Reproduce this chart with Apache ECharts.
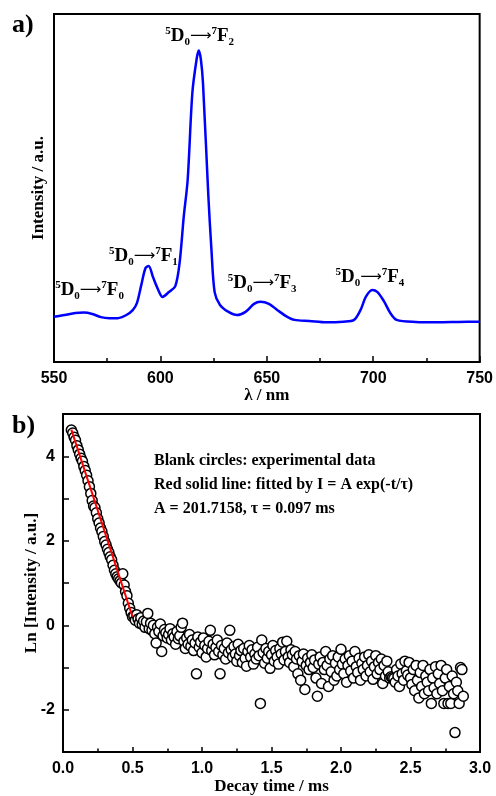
<!DOCTYPE html>
<html>
<head>
<meta charset="utf-8">
<script src="https://cdn.jsdelivr.net/npm/echarts@6/dist/echarts.min.js"></script>
<style>
html,body{margin:0;padding:0;background:#fff;}
#c{width:496px;height:796px;}
</style>
</head>
<body>
<div id="c"></div>
<script>
// ---- Panel a) emission spectrum ----
var specWl = [550,555,560,564,568,572,576,580,584,587,589,591,593,594.5,596.5,599,601,604,607,609,611,612.8,615,617,618,619,620,622.5,624,625.5,628,632,636,640,644,647,651,655,659,663,670,678,686,691,694,696.5,699.5,702,705,708,711,720,730,740,750];
var specInt = [0.130,0.135,0.141,0.142,0.138,0.129,0.126,0.126,0.135,0.149,0.170,0.221,0.270,0.276,0.244,0.207,0.187,0.201,0.218,0.284,0.420,0.523,0.773,0.870,0.895,0.870,0.802,0.480,0.320,0.200,0.164,0.144,0.135,0.144,0.167,0.173,0.167,0.149,0.132,0.121,0.118,0.114,0.116,0.121,0.149,0.187,0.207,0.201,0.175,0.141,0.121,0.115,0.114,0.115,0.116];
// transition labels: F sub-index and anchor in data units
var transLabelF = ['0','1','2','3','4'];
var transLabelWl = [566.7,592.0,618.4,647.8,698.4];
var transLabelInt = [0.207,0.305,0.937,0.227,0.244];

// ---- Panel b) decay curve ----
var decayT = [0.06,0.07,0.08,0.09,0.10,0.11,0.12,0.13,0.14,0.15,0.16,0.17,0.18,0.19,0.20,0.21,0.22,0.23,0.24,0.25,0.26,0.27,0.28,0.29,0.30,0.31,0.32,0.33,0.34,0.35,0.36,0.37,0.38,0.39,0.40,0.41,0.42,0.43,0.44,0.45,0.46,0.47,0.48,0.49,0.50,
0.51,0.52,0.53,0.54,0.55,0.56,0.57,0.58,0.59,0.60,0.61,0.62,0.63,0.64,0.65,0.66,0.67,0.68,0.69,0.70,0.71,0.72,0.73,0.74,0.75,0.76,0.77,0.78,0.79,0.80,0.81,0.82,0.83,0.84,0.85,0.86,0.87,0.88,0.89,0.90,0.91,0.92,0.93,0.94,0.95,0.96,0.97,0.98,0.99,
1.00,1.01,1.02,1.03,1.04,1.05,1.06,1.07,1.08,1.09,1.10,1.11,1.12,1.13,1.14,1.15,1.16,1.17,1.18,1.19,1.20,1.21,1.22,1.23,1.24,1.25,1.26,1.27,1.28,1.29,1.30,1.31,1.32,1.33,1.34,1.35,1.36,1.37,1.38,1.39,1.40,1.41,1.42,1.43,1.44,1.45,1.46,1.47,1.48,1.49,
1.50,1.51,1.52,1.53,1.54,1.55,1.56,1.57,1.58,1.59,1.60,1.61,1.62,1.63,1.64,1.65,1.66,1.67,1.68,1.69,1.70,1.71,1.72,1.73,1.74,1.75,1.76,1.77,1.78,1.79,1.80,1.81,1.82,1.83,1.84,1.85,1.86,1.87,1.88,1.89,1.90,1.91,1.92,1.93,1.94,1.95,1.96,1.97,1.98,1.99,
2.00,2.01,2.02,2.03,2.04,2.05,2.06,2.07,2.08,2.09,2.10,2.11,2.12,2.13,2.14,2.15,2.16,2.17,2.18,2.19,2.20,2.21,2.22,2.23,2.24,2.25,2.26,2.27,2.28,2.29,2.30,2.31,2.32,2.33,2.34,2.35,2.36,2.37,2.38,2.39,2.40,2.41,2.42,2.43,2.44,2.45,2.46,2.47,2.48,2.49,
2.50,2.51,2.52,2.53,2.54,2.55,2.56,2.57,2.58,2.59,2.60,2.61,2.62,2.63,2.64,2.65,2.66,2.67,2.68,2.69,2.70,2.71,2.72,2.73,2.74,2.75,2.76,2.77,2.78,2.79,2.80,2.81,2.82,2.83,2.84,2.85,2.86,2.87,2.88];
var decayLn = [4.62,4.55,4.45,4.38,4.25,4.15,4.05,3.95,3.88,3.76,3.66,3.55,3.42,3.28,3.12,2.95,2.82,2.78,2.66,2.52,2.42,2.30,2.22,2.10,1.98,1.90,1.80,1.72,1.62,1.55,1.42,1.30,1.22,1.15,1.10,1.05,1.00,1.22,0.95,0.80,0.70,0.52,0.40,0.30,0.20,
0.22,0.12,0.25,0.15,0.05,0.18,0.02,0.10,-0.05,0.08,0.28,-0.08,0.05,-0.12,0.00,-0.20,-0.42,-0.05,-0.15,0.03,-0.62,-0.25,-0.10,-0.18,-0.30,-0.22,-0.08,-0.35,-0.20,-0.28,-0.45,-0.15,-0.32,-0.25,-0.05,0.05,-0.38,-0.55,-0.30,-0.45,-0.22,-0.50,-0.35,-0.60,-0.42,-1.15,-0.28,-0.52,-0.40,
-0.65,-0.30,-0.48,-0.75,-0.55,-0.38,-0.12,-0.60,-0.45,-0.70,-0.52,-0.35,-0.62,-1.15,-0.48,-0.70,-0.55,-0.80,-0.42,-0.65,-0.12,-0.58,-0.75,-0.50,-0.68,-0.85,-0.45,-0.72,-0.60,-0.88,-0.55,-0.78,-0.97,-0.62,-0.48,-0.75,-0.58,-0.92,-0.68,-0.80,-0.52,-0.72,-1.85,-0.35,-0.65,-0.90,-0.55,-0.78,-0.62,-1.02,
-0.70,-0.48,-0.85,-0.60,-0.75,-0.92,-0.55,-0.68,-0.40,-0.82,-0.62,-0.38,-0.75,-0.88,-0.58,-0.70,-0.98,-0.62,-0.80,-1.15,-0.72,-1.30,-0.85,-0.68,-1.52,-0.95,-0.78,-1.05,-0.88,-0.70,-1.00,-0.82,-1.25,-1.68,-0.92,-0.75,-1.38,-0.88,-1.05,-0.62,-0.95,-1.45,-0.80,-1.10,-0.72,-1.30,-0.90,-1.20,-0.75,-1.05,
-0.57,-0.92,-1.15,-0.80,-1.35,-0.95,-0.72,-1.08,-0.85,-1.25,-0.62,-0.98,-1.12,-0.78,-1.30,-0.90,-1.05,-0.75,-1.20,-0.95,-0.70,-1.10,-0.85,-1.28,-0.98,-0.72,-1.15,-0.88,-1.05,-0.80,-1.38,-0.95,-1.20,-0.85,-1.10,-1.25,-1.22,-1.24,-1.26,-1.35,-1.05,-1.20,-1.45,-0.92,-1.15,-1.30,-0.85,-1.08,-1.18,-0.88,
-1.25,-1.40,-1.05,-1.55,-0.95,-1.30,-1.72,-1.12,-1.45,-0.95,-1.62,-1.20,-1.35,-1.55,-1.05,-1.85,-1.25,-1.48,-0.98,-1.62,-1.15,-1.38,-0.95,-1.55,-1.85,-1.25,-1.05,-1.85,-1.45,-1.85,-1.20,-1.62,-2.54,-1.35,-1.55,-1.85,-1.00,-1.05,-1.68];
var fitT = [0.06,0.50];
var fitLn = [4.63,0.20];
var decayTicksLabel = [-2,0,2,4];
var annotLines = ['Blank circles: experimental data','Red solid line: fitted by I = A exp(-t/\u03c4)','A = 201.7158, \u03c4 = 0.097 ms'];

var SERIF = '"Liberation Serif","Times New Roman",serif';
var SANS = '"Liberation Sans",Arial,sans-serif';

var chart = echarts.init(document.getElementById('c'), null, {renderer:'canvas'});

var specData = specWl.map(function(w,i){return [w, specInt[i]];});
var labelData = transLabelWl.map(function(w,i){return [w, transLabelInt[i]];});
var decayData = decayT.map(function(t,i){return [t, decayLn[i]];});
var fitData = fitT.map(function(t,i){return [t, fitLn[i]];});

var axisLbl = {color:'#000', fontFamily:SANS, fontWeight:'bold', fontSize:16};
var nameStyle = {color:'#000', fontFamily:SERIF, fontWeight:'bold', fontSize:17};

var option = {
  animation:false,
  backgroundColor:'#fff',
  grid:[
    {left:54, right:15, top:14, height:348, show:true, borderColor:'#000', borderWidth:2, backgroundColor:'transparent'},
    {left:63, right:16, top:414, height:338, show:true, borderColor:'#000', borderWidth:2, backgroundColor:'transparent'}
  ],
  xAxis:[
    {gridIndex:0, type:'value', min:550, max:750, interval:50,
     axisLine:{show:true, onZero:false, lineStyle:{color:'#000', width:2}},
     axisTick:{show:true, inside:true, length:6, lineStyle:{color:'#000', width:1.5}},
     minorTick:{show:true, splitNumber:2, length:4, lineStyle:{color:'#000', width:1.5}},
     splitLine:{show:false},
     axisLabel:Object.assign({margin:9}, axisLbl),
     name:'\u03bb / nm', nameLocation:'middle', nameGap:25, nameMoveOverlap:false, nameTextStyle:nameStyle},
    {gridIndex:1, type:'value', min:0, max:3, interval:0.5,
     axisLine:{show:true, onZero:false, lineStyle:{color:'#000', width:2}},
     axisTick:{show:true, inside:true, length:5, lineStyle:{color:'#000', width:1.5}},
     minorTick:{show:true, splitNumber:2, length:3.5, lineStyle:{color:'#000', width:1.5}},
     splitLine:{show:false},
     axisLabel:Object.assign({margin:9, formatter:function(v){return v.toFixed(1);}}, axisLbl),
     name:'Decay time / ms', nameLocation:'middle', nameGap:26, nameMoveOverlap:false, nameTextStyle:nameStyle}
  ],
  yAxis:[
    {gridIndex:0, type:'value', min:0, max:1,
     axisLine:{show:true, onZero:false, lineStyle:{color:'#000', width:2}},
     axisTick:{show:false}, axisLabel:{show:false}, splitLine:{show:false},
     name:'Intensity / a.u.', nameLocation:'middle', nameGap:7, nameMoveOverlap:false, nameTextStyle:nameStyle},
    {gridIndex:1, type:'value', min:-3, max:5, interval:1,
     axisLine:{show:true, onZero:false, lineStyle:{color:'#000', width:2}},
     axisTick:{show:true, inside:true, length:6, lineStyle:{color:'#000', width:1.5}},
     splitLine:{show:false},
     axisLabel:Object.assign({margin:8, formatter:function(v){return decayTicksLabel.indexOf(v)>=0 ? String(v) : '';}}, axisLbl),
     name:'Ln [Intensity / a.u.]', nameLocation:'middle', nameGap:23, nameMoveOverlap:false, nameTextStyle:nameStyle}
  ],
  series:[
    {type:'line', xAxisIndex:0, yAxisIndex:0, data:specData, showSymbol:false, smooth:0.3,
     lineStyle:{color:'#0000ff', width:2.5}, silent:true, z:3},
    {type:'scatter', xAxisIndex:0, yAxisIndex:0, data:labelData, symbolSize:1,
     itemStyle:{color:'rgba(255,255,255,0)'}, silent:true, z:4,
     label:{show:true, position:'inside', color:'#000', opacity:1, textBorderWidth:0,
       formatter:function(p){return '{sup|5}{m|D}{sub|0}{arr|\u27f6}{sup|7}{m|F}{sub|'+transLabelF[p.dataIndex]+'}';},
       rich:{
         m:{fontFamily:SERIF, fontWeight:'bold', fontSize:19, color:'#000', textBorderWidth:0, lineHeight:28, verticalAlign:'middle'},
         sup:{fontFamily:SERIF, fontWeight:'bold', fontSize:11, color:'#000', textBorderWidth:0, lineHeight:28, verticalAlign:'top', padding:[4,0,0,0]},
         sub:{fontFamily:SERIF, fontWeight:'bold', fontSize:11, color:'#000', textBorderWidth:0, lineHeight:28, verticalAlign:'bottom', padding:[0,0,2,0]},
         arr:{fontFamily:'"DejaVu Sans"', fontSize:15, color:'#000', textBorderWidth:0, lineHeight:28, verticalAlign:'middle'}
       }}},
    {type:'scatter', xAxisIndex:1, yAxisIndex:1, data:decayData, symbol:'circle', symbolSize:10,
     itemStyle:{color:'#fff', borderColor:'#000', borderWidth:1.5, opacity:1}, silent:true, z:3},
    {type:'line', xAxisIndex:1, yAxisIndex:1, data:fitData, showSymbol:false,
     lineStyle:{color:'#ff0000', width:2}, silent:true, z:5}
  ],
  graphic:[
    {type:'text', left:12, top:12, style:{text:'a)', font:'bold 26px '+SERIF, fill:'#000'}},
    {type:'text', left:12, top:413, style:{text:'b)', font:'bold 26px '+SERIF, fill:'#000'}},
    {type:'text', left:154, top:453, style:{text:annotLines[0], font:'bold 16px '+SERIF, fill:'#000'}},
    {type:'text', left:154, top:477, style:{text:annotLines[1], font:'bold 16px '+SERIF, fill:'#000'}},
    {type:'text', left:154, top:501, style:{text:annotLines[2], font:'bold 16px '+SERIF, fill:'#000'}}
  ]
};
chart.setOption(option);
</script>
</body>
</html>
